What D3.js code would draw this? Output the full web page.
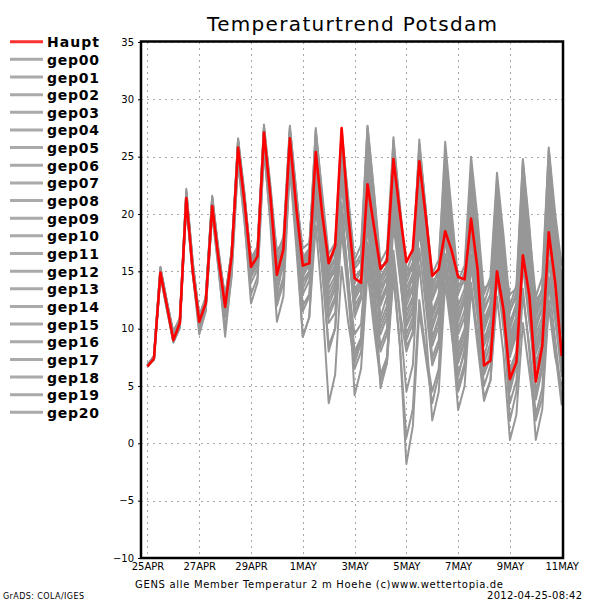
<!DOCTYPE html>
<html><head><meta charset="utf-8">
<script src="https://cdn.jsdelivr.net/npm/d3@7"></script>
<style>
html,body{margin:0;padding:0;background:#fff;}
svg{display:block;}
text{font-family:"DejaVu Sans",sans-serif;}
</style></head><body>
<svg id="c" width="600" height="600"></svg>
<script>
const title = "Temperaturtrend Potsdam";
const caption = "GENS alle Member Temperatur 2 m Hoehe (c)www.wettertopia.de";
const stamp = "2012-04-25-08:42";
const credit = "GrADS: COLA/IGES";
const startUTC = Date.UTC(2012, 3, 25, 0);
const stepHours = 6;
const xTickLabels = ["25APR","27APR","29APR","1MAY","3MAY","5MAY","7MAY","9MAY","11MAY"];
const xTickDates = [Date.UTC(2012,3,25),Date.UTC(2012,3,27),Date.UTC(2012,3,29),Date.UTC(2012,4,1),Date.UTC(2012,4,3),Date.UTC(2012,4,5),Date.UTC(2012,4,7),Date.UTC(2012,4,9),Date.UTC(2012,4,11)];
const yTicks = [-10,-5,0,5,10,15,20,25,30,35];

const haupt = [6.7,7.4,14.9,12.0, 9.0,10.5,21.4,15.0, 10.6,12.2,20.7,16.0, 11.9,16.3,25.8,21.0, 15.4,16.3,27.1,21.5, 14.7,16.9,26.6,20.5, 15.5,15.7,25.4,20.0, 15.7,17.2,27.5,20.0, 14.4,14.0,22.6,18.9, 15.2,15.9,24.8,20.1, 15.8,16.9,24.6,19.8, 14.6,15.2,18.5,16.8, 14.5,14.3,19.6,15.2, 6.8,7.2,15.0,11.7, 5.6,7.1,16.4,12.9, 5.4,8.5,18.4,14.0, 7.6];
const gep00 = [6.8,7.5,15.1,12.2, 9.2,10.3,21.0,15.3, 10.2,12.0,20.3,15.6, 11.5,15.8,25.3,20.5, 15.0,16.0,26.6,21.0, 15.2,17.0,27.2,21.2, 15.8,16.5,24.8,19.5, 14.8,16.0,25.9,19.2, 13.2,14.5,24.0,18.4, 13.8,15.0,22.5,17.3, 12.5,14.8,21.0,16.0, 11.2,13.0,22.4,17.0, 10.6,12.5,20.8,15.5, 9.8,11.6,19.4,14.6, 8.4,10.2,21.5,16.2, 9.5,11.0,23.0,17.5, 12.0];
const gep01 = [6.9,7.3,14.6,11.6, 8.8,10.0,21.8,15.4, 10.9,12.5,21.2,16.2, 12.2,16.0,26.2,21.4, 15.6,16.6,27.4,22.0, 16.0,17.5,25.4,19.8, 14.2,15.0,21.0,16.8, 11.5,12.8,18.5,14.0, 9.5,10.4,17.2,13.2, 8.0,9.5,19.0,14.5, 10.2,11.5,20.5,15.4, 9.2,11.0,21.2,15.8, 8.0,9.6,18.2,13.0, 6.2,8.0,17.5,12.2, 4.5,6.8,16.2,11.5, 3.8,6.5,14.5,10.8, 6.5];
const gep02 = [6.7,7.6,15.3,12.4, 9.5,10.8,22.2,15.8, 11.0,12.8,21.5,16.5, 12.5,16.8,26.5,21.2, 16.0,17.2,27.8,22.5, 16.5,18.0,27.7,22.0, 16.2,17.0,27.3,21.8, 16.5,17.5,27.4,21.5, 16.0,17.3,27.6,22.0, 15.8,16.9,26.4,20.8, 15.0,16.5,25.8,20.2, 14.8,16.0,25.0,19.5, 13.5,15.0,23.8,18.0, 12.2,14.0,22.5,17.2, 11.5,13.2,24.5,18.5, 12.8,14.5,25.6,19.2, 14.5];
const gep03 = [6.8,7.4,14.8,11.8, 9.0,10.6,21.2,14.8, 10.4,11.8,20.4,15.8, 11.0,15.5,25.0,20.2, 14.0,15.2,26.0,20.4, 13.0,15.8,25.0,19.0, 12.0,13.0,22.0,16.5, 10.5,11.4,20.0,14.5, 8.0,9.2,16.5,11.2, 6.0,7.5,15.0,8.5, -1.8,1.5,11.5,7.5, 3.5,6.0,15.2,10.5, 5.8,8.2,17.8,12.8, 7.5,9.8,19.0,14.2, 8.8,10.5,20.8,15.5, 8.0,10.0,22.0,16.0, 10.5];
const gep04 = [6.7,7.3,15.0,12.1, 8.9,10.4,21.5,15.2, 10.0,11.6,20.0,15.0, 10.0,14.5,24.6,19.4, 12.2,14.0,25.8,19.0, 10.6,12.8,24.2,17.0, 9.3,11.0,19.0,12.5, 3.5,6.0,15.4,10.6, 7.0,8.8,17.5,12.8, 9.5,11.0,20.5,15.0, 11.0,12.5,22.5,16.8, 12.5,14.0,24.0,18.0, 13.0,14.5,22.0,17.2, 11.8,13.0,20.5,15.5, 10.0,11.8,18.5,14.0, 9.0,10.5,20.0,14.8, 9.5];
const gep05 = [6.8,7.6,14.7,12.0, 9.3,10.8,21.0,15.5, 11.2,12.6,21.0,16.4, 12.8,16.5,25.5,21.0, 16.2,17.0,26.8,21.2, 16.8,17.6,26.0,21.4, 17.0,17.5,22.5,19.0, 16.2,16.5,20.5,17.8, 15.8,16.0,19.2,17.0, 15.5,15.6,18.5,16.8, 15.0,15.5,18.0,16.5, 14.2,14.6,17.5,15.8, 13.8,14.0,17.2,15.5, 13.5,14.0,18.0,15.8, 13.0,13.5,19.2,16.2, 12.5,13.2,18.8,15.6, 13.2];
const gep06 = [6.9,7.5,15.2,12.3, 9.4,10.2,21.6,15.1, 10.8,12.3,21.4,16.5, 12.0,16.4,26.4,21.6, 15.2,16.2,27.3,21.4, 15.0,16.5,26.0,20.2, 14.5,15.8,26.2,20.5, 15.5,16.8,25.0,19.0, 12.5,13.6,23.0,17.0, 11.0,12.8,21.5,15.5, 9.0,10.5,19.0,13.2, 7.0,8.5,16.5,11.0, 4.5,6.5,14.0,9.5, 4.0,5.5,12.8,7.8, 0.3,2.5,10.5,6.2, 2.0,4.0,12.5,8.0, 3.3];
const gep07 = [6.7,7.4,14.9,12.0, 9.1,10.5,21.3,15.0, 10.5,12.0,20.8,16.1, 11.8,16.2,25.9,21.2, 15.4,16.4,27.0,21.6, 14.8,16.8,26.4,20.8, 15.2,16.0,25.5,19.8, 14.0,15.5,23.5,17.5, 11.0,12.6,21.0,15.0, 10.0,11.5,23.0,16.8, 12.0,13.5,24.8,18.2, 11.5,13.0,20.5,14.8, 8.5,10.0,18.5,12.5, 6.0,7.5,16.0,11.0, 3.5,5.5,13.5,8.0, 0.3,3.0,12.0,7.5, 5.0];
const gep08 = [6.8,7.5,15.0,12.2, 9.6,10.9,21.9,15.6, 11.0,12.7,21.6,16.8, 12.6,16.7,26.0,21.4, 16.0,16.8,27.5,22.0, 15.8,17.2,27.0,21.6, 16.0,16.8,26.5,21.0, 16.0,17.0,26.8,21.2, 15.2,16.0,26.0,20.5, 14.5,15.5,24.5,19.5, 14.0,15.5,26.0,20.5, 13.5,15.2,26.3,20.2, 14.2,15.5,25.0,19.6, 13.0,14.5,23.6,18.2, 12.0,13.8,24.8,19.0, 11.5,13.5,25.8,20.0, 15.5];
const gep09 = [6.8,7.3,14.6,11.8, 8.8,10.2,20.8,14.7, 10.2,11.8,20.2,15.5, 11.2,15.6,25.0,20.0, 14.5,15.6,26.4,20.6, 13.8,15.5,25.6,19.5, 13.5,14.8,23.0,17.0, 11.0,12.5,21.0,14.5, 4.2,6.5,15.0,10.0, 5.5,7.5,16.8,11.5, 8.0,9.8,19.5,14.0, 10.5,12.0,22.5,16.5, 10.0,11.6,21.5,15.8, 9.0,10.8,20.8,15.0, 7.5,9.5,22.0,15.8, 8.5,10.2,23.5,16.5, 11.0];
const gep10 = [6.7,7.5,15.1,12.0, 9.2,10.6,21.7,15.4, 10.7,12.4,21.0,16.0, 11.6,15.9,25.4,20.6, 14.8,15.8,26.8,21.0, 14.2,16.0,26.2,20.0, 14.8,15.5,25.0,19.2, 13.5,14.6,24.2,18.0, 12.0,13.0,20.5,14.5, 4.8,7.0,16.0,11.0, 4.5,6.8,17.0,12.0, 6.8,8.5,19.0,13.5, 7.5,9.0,20.2,14.8, 8.8,10.2,21.0,15.5, 9.5,11.0,19.5,14.5, 7.0,9.0,21.0,15.2, 9.8];
const gep11 = [6.9,7.4,14.8,12.1, 9.3,10.4,21.1,15.0, 10.6,12.1,20.6,16.2, 12.4,16.2,25.6,21.0, 15.6,16.5,26.5,21.2, 15.4,16.6,26.8,21.0, 15.5,16.2,26.0,20.5, 14.5,15.5,24.5,18.5, 13.5,14.2,25.0,18.8, 12.0,13.5,22.0,15.0, 8.5,9.5,15.5,10.0, 2.0,4.5,14.0,9.5, 5.0,7.0,16.5,11.5, 7.0,8.5,18.5,13.5, 8.0,9.8,21.0,15.5, 10.5,12.0,24.0,17.8, 12.5];
const gep12 = [6.8,7.6,15.4,12.3, 9.8,10.9,22.0,15.8, 10.9,12.6,21.4,16.6, 12.2,16.6,26.6,21.8, 15.8,16.9,27.6,22.2, 15.6,17.2,27.5,21.8, 15.8,16.8,27.0,21.2, 15.2,16.2,26.5,20.5, 14.5,15.2,24.5,19.2, 13.0,14.5,22.8,17.5, 11.5,12.8,19.5,13.5, 7.5,9.0,16.0,10.0, 2.9,5.0,13.5,8.5, 3.7,5.5,14.5,10.0, 6.5,8.0,17.5,12.5, 7.8,9.5,19.5,13.8, 8.5];
const gep13 = [6.7,7.3,14.7,11.9, 9.0,10.3,21.2,14.9, 10.3,12.0,20.5,15.7, 11.7,16.0,25.2,20.8, 15.0,16.0,26.2,21.0, 15.0,16.6,25.8,20.8, 15.4,16.2,26.8,21.0, 15.8,16.8,27.0,21.4, 15.5,16.5,27.7,21.8, 15.0,16.2,25.6,20.2, 14.5,15.8,24.0,18.8, 13.2,14.5,23.5,18.0, 12.0,13.5,22.5,17.0, 10.5,12.0,21.5,16.0, 9.2,11.0,23.0,17.2, 10.0,11.8,24.5,18.0, 12.8];
const gep14 = [6.8,7.4,14.9,12.0, 9.1,10.6,21.5,15.3, 10.6,12.2,20.8,16.0, 12.0,16.1,25.6,20.8, 14.6,15.6,25.8,20.2, 12.5,14.5,24.5,18.5, 11.5,12.8,20.5,15.0, 8.5,10.0,18.5,13.0, 6.5,8.0,16.0,11.8, 5.5,7.0,14.5,8.5, 0.5,3.0,12.5,8.0, 4.5,6.5,16.5,12.0, 8.0,9.5,19.0,14.0, 10.0,11.5,20.2,15.0, 10.5,12.0,18.5,14.5, 11.0,12.5,17.5,13.8, 11.5];
const gep15 = [6.7,7.5,15.0,12.1, 9.4,10.7,21.4,15.2, 10.9,12.4,20.9,16.3, 12.3,16.5,26.1,21.5, 15.8,16.6,27.2,21.8, 15.6,17.0,26.5,21.0, 15.0,16.0,24.5,19.0, 14.2,15.0,22.5,17.5, 13.0,14.0,21.8,17.0, 12.2,13.5,24.0,18.5, 13.5,14.8,25.5,19.5, 12.8,14.2,24.8,18.8, 11.5,13.0,23.0,17.5, 10.2,11.8,22.0,16.5, 8.0,9.8,20.0,14.8, 5.5,7.5,16.0,11.0, 5.8];
const gep16 = [6.8,7.4,14.8,11.9, 8.8,10.2,21.0,14.8, 9.5,11.5,20.2,15.2, 9.3,14.8,24.5,19.2, 13.0,14.5,25.5,19.5, 12.0,14.0,24.0,18.0, 9.3,11.0,21.5,15.5, 8.0,10.0,20.0,14.0, 7.5,9.2,19.0,13.5, 8.5,10.0,20.0,14.5, 9.5,11.0,21.5,16.0, 10.0,11.8,22.0,16.2, 11.0,12.5,23.0,17.2, 10.8,12.2,22.0,16.8, 11.5,12.8,21.2,16.5, 12.0,13.5,22.5,17.0, 14.0];
const gep17 = [6.9,7.6,15.3,12.4, 9.5,10.7,21.8,15.6, 11.0,12.6,21.2,16.5, 12.6,16.8,26.3,21.4, 15.5,16.5,26.9,21.2, 15.2,16.8,27.4,21.5, 15.6,16.6,27.5,21.4, 15.0,16.0,25.5,19.5, 14.0,15.0,24.5,19.0, 13.5,14.5,26.7,20.5, 14.5,15.5,26.5,20.2, 13.8,15.0,24.0,18.0, 11.0,12.5,20.5,14.5, 7.0,8.8,17.0,11.0, 2.0,4.5,13.0,8.5, 2.5,4.8,14.0,9.0, 4.0];
const gep18 = [6.7,7.3,14.9,12.0, 9.0,10.4,21.3,15.1, 10.4,12.0,20.6,15.9, 11.8,16.1,25.7,20.8, 15.2,16.2,26.9,21.3, 14.6,16.4,26.6,20.6, 14.0,15.0,25.2,19.5, 13.0,14.2,26.0,19.8, 14.0,15.0,26.8,20.5, 14.2,15.4,25.0,19.2, 13.0,14.5,23.0,17.5, 11.0,12.5,20.0,15.0, 9.5,11.0,24.0,18.0, 11.5,13.0,22.8,17.0, 10.5,12.2,24.2,18.0, 11.2,12.8,24.8,18.5, 13.5];
const gep19 = [6.8,7.5,15.0,12.0, 9.2,10.5,21.0,15.2, 10.8,12.3,21.1,16.3, 12.1,16.3,25.9,21.1, 15.3,16.3,26.6,21.0, 15.3,16.8,26.9,21.2, 14.6,15.6,24.0,18.5, 12.5,13.8,23.0,17.5, 11.5,12.8,22.0,16.5, 10.5,12.0,21.2,16.0, 12.5,13.8,23.5,17.8, 9.0,10.8,18.0,13.0, 6.0,8.0,15.5,11.0, 5.0,6.8,15.8,11.5, 6.0,7.8,18.2,13.2, 4.5,7.0,20.5,14.5, 7.0];
const gep20 = [6.8,7.4,14.8,12.0, 9.3,10.5,21.3,15.2, 10.7,12.2,20.8,16.0, 12.0,16.2,25.8,21.0, 15.4,16.3,27.1,21.5, 14.8,16.8,26.2,20.2, 13.0,14.2,23.5,18.2, 12.0,13.5,24.5,18.5, 12.8,14.0,25.5,19.2, 12.5,13.8,24.0,18.0, 10.5,12.0,21.0,15.5, 8.5,10.2,20.0,14.5, 7.0,8.8,19.0,13.8, 8.5,10.0,18.0,13.0, 5.0,7.0,15.5,10.5, 6.5,8.5,17.5,12.0, 8.0];

const memberNames = ["gep00","gep01","gep02","gep03","gep04","gep05","gep06","gep07","gep08","gep09","gep10","gep11","gep12","gep13","gep14","gep15","gep16","gep17","gep18","gep19","gep20"];
const members = [gep00,gep01,gep02,gep03,gep04,gep05,gep06,gep07,gep08,gep09,gep10,gep11,gep12,gep13,gep14,gep15,gep16,gep17,gep18,gep19,gep20];

const svg = d3.select("#c");
const L = 141, R = 563, T = 42, B = 558;

const x = d3.scaleUtc()
  .domain([new Date(Date.UTC(2012,3,24,18)), new Date(Date.UTC(2012,4,11,0))])
  .range([L, 561.7]);
const y = d3.scaleLinear().domain([-10, 35]).range([B, T]);
const tAt = i => new Date(startUTC + i * stepHours * 3600e3);

// grid
const grid = svg.append("g").attr("stroke", "#a8a8a8").attr("stroke-width", 1).attr("stroke-dasharray", "2,4");
yTicks.filter(v => v > -10).forEach(v => {
  grid.append("line").attr("x1", L).attr("x2", R).attr("y1", Math.round(y(v)) + 0.5).attr("y2", Math.round(y(v)) + 0.5);
});
xTickDates.forEach(d => {
  const xx = Math.round(x(new Date(d))) + 0.5;
  grid.append("line").attr("x1", xx).attr("x2", xx).attr("y1", T).attr("y2", B);
});

// lines
const line = d3.line().x((d, i) => x(tAt(i))).y(d => y(d)).curve(d3.curveLinear);
const gLines = svg.append("g").attr("fill", "none").attr("stroke-linejoin", "round");
members.forEach(m => {
  gLines.append("path").attr("d", line(m)).attr("stroke", "#979797").attr("stroke-width", 2);
});
gLines.append("path").attr("d", line(haupt)).attr("stroke", "#ff0000").attr("stroke-width", 2.6);

// frame
svg.append("rect").attr("x", L).attr("y", T - 0.5).attr("width", R - L).attr("height", B - T + 0.5)
  .attr("fill", "none").attr("stroke", "#000").attr("stroke-width", 2.5);

// axes
const yAxis = d3.axisLeft(y).tickValues(yTicks).tickSize(3).tickPadding(4);
const gy = svg.append("g").attr("transform", `translate(${L},0)`).call(yAxis);
gy.select(".domain").remove();
gy.selectAll("text").attr("font-size", 10).attr("font-family", "DejaVu Sans").attr("fill", "#000");
gy.selectAll("line").attr("stroke", "#000");

const xAxis = d3.axisBottom(x).tickValues(xTickDates.map(d => new Date(d))).tickFormat((d, i) => xTickLabels[i]).tickSize(0).tickPadding(5);
const gx = svg.append("g").attr("transform", `translate(0,${B})`).call(xAxis);
gx.select(".domain").remove();
gx.selectAll("text").attr("font-size", 10).attr("font-family", "DejaVu Sans").attr("fill", "#000");

// title & captions
svg.append("text").attr("x", 207).attr("y", 31).attr("font-size", 20).attr("textLength", 290).attr("lengthAdjust", "spacing").text(title);
svg.append("text").attr("x", 135).attr("y", 588).attr("font-size", 10).attr("textLength", 368).attr("lengthAdjust", "spacing").text(caption);
svg.append("text").attr("x", 487).attr("y", 599).attr("font-size", 10).attr("textLength", 95).attr("lengthAdjust", "spacing").text(stamp);
svg.append("text").attr("x", 3).attr("y", 599).attr("font-size", 8).attr("textLength", 81).attr("lengthAdjust", "spacing").text(credit);

// legend
const legendNames = ["Haupt"].concat(memberNames);
const legendColors = ["#ff3030"].concat(memberNames.map(() => "#aaaaaa"));
const lg = svg.append("g");
legendNames.forEach((n, i) => {
  const yy = 41.7 + i * 17.65;
  lg.append("line").attr("x1", 10).attr("x2", 43).attr("y1", yy).attr("y2", yy).attr("stroke", legendColors[i]).attr("stroke-width", 3);
  lg.append("text").attr("x", 47).attr("y", yy + 5.5).attr("font-size", 14).attr("font-weight", "bold")
    .attr("textLength", 52).attr("lengthAdjust", "spacing").text(n);
});
</script>
</body></html>
